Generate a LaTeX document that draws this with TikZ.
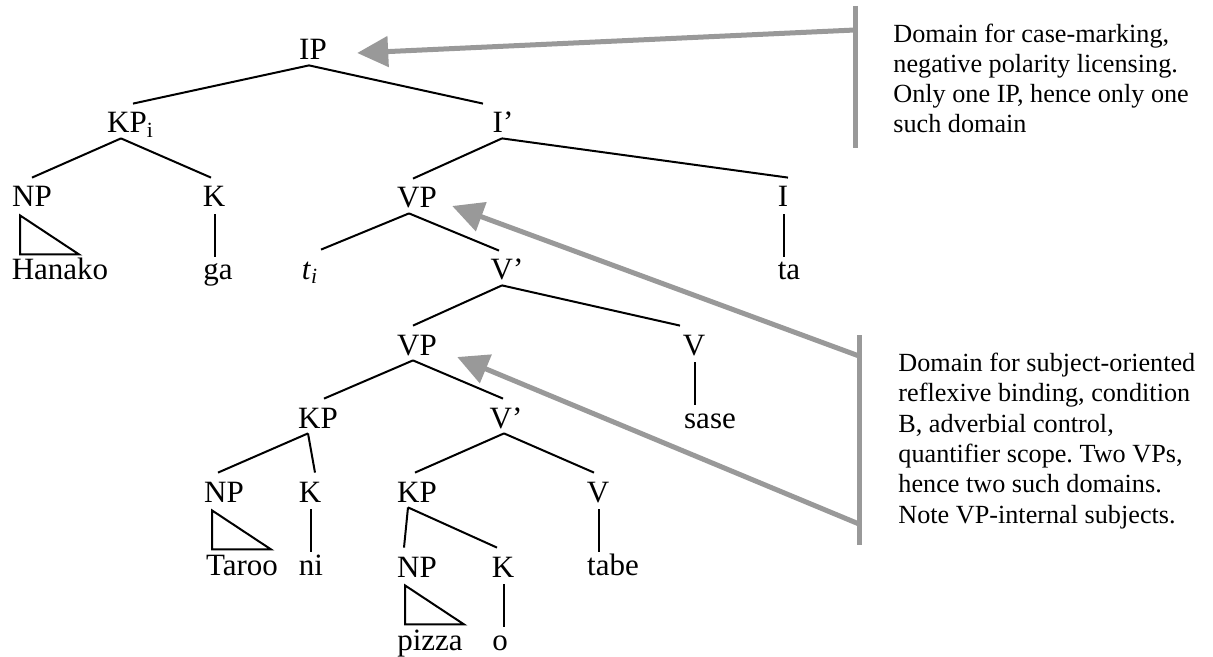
\documentclass[tikz,border=0pt]{standalone}
\usepackage{fontspec}
\setmainfont{Liberation Serif}
\usetikzlibrary{calc,arrows.meta}
\definecolor{domgray}{RGB}{153,153,153}
\frenchspacing
\def\branch(#1)(#2)(#3)(#4){\draw[treeline] ($(#1.south)+(#2,0)$) -- ($(#3.north)+(#4,0)$);}
\def\unary(#1)(#2){\draw[treeline] ($(#1.south)+(1,2)$) -- ($(#2.north -| #1.south)+(1,6)$);}
\def\roof(#1){\draw[treeline] ($(#1.south)+(-12,3)$) -- ++(0,39) -- ++(59,0) -- cycle;}

\begin{document}
\begin{tikzpicture}[x=0.5pt,y=-0.5pt,
    treelabel/.style={anchor=base,inner sep=0pt,text height=14.5pt,text depth=2.5pt,font=\fontsize{15.5}{18}\selectfont},
    treeline/.style={line width=1pt},
    domnote/.style={anchor=base west,inner sep=0pt,align=left,font=\fontsize{13.1}{15.15}\selectfont},
    dombar/.style={line width=2.5pt,draw=domgray},
    domarrow/.style={line width=2.5pt,draw=domgray,-{Triangle[length=15.5pt,width=15pt]}}]
			%%%%% START %%%%%
			\useasboundingbox (0,0) rectangle (1213,657);
			
			\node[treelabel] (IP) at (313,60) {IP};
			\node[treelabel] (KPi) at (127,133) {KP\rlap{\textsubscript{i}}};
			\node[treelabel] (Ibar) at (503,133) {I’};
			
			\node[treelabel] (NPa) at (32,207) {NP};
			\node[treelabel] (Ka) at (214,207) {K};
			\node[treelabel] (VPa) at (417,208) {VP};
			\node[treelabel] (I) at (783,207) {I};
			
			\node[treelabel] (Hanako) at (60,280) {Hanako};
			\node[treelabel] (ga) at (218,280) {ga};
			\node[treelabel] (ti) at (310,279) {\textit{t}\textsubscript{\textit{i}}};
			\node[treelabel] (Vbara) at (507,280) {V’};
			\node[treelabel] (ta) at (789,280) {ta};
			
			\node[treelabel] (VPb) at (417,355) {VP};
			\node[treelabel] (Va) at (694,355) {V};
			
			\node[treelabel] (KPb) at (318,428) {KP};
			\node[treelabel] (Vbarb) at (506,428) {V’};
			\node[treelabel] (sase) at (710,428) {sase};
			
			\node[treelabel] (NPb) at (224,502) {NP};
			\node[treelabel] (Kb) at (310,502) {K};
			\node[treelabel] (KPc) at (417,502) {KP};
			\node[treelabel] (Vb) at (598,502) {V};
			
			\node[treelabel] (Taroo) at (242,575) {Taroo};
			\node[treelabel] (ni) at (311,575) {ni};
			\node[treelabel] (tabe) at (613,575) {tabe};
			\node[treelabel] (NPc) at (417,577) {NP};
			\node[treelabel] (Kc) at (503,577) {K};
			
			\node[treelabel] (pizza) at (430,650) {pizza};
			\node[treelabel] (o) at (500,650) {o};
			
			\branch(IP)(-4)(KPi)(6)
			\branch(IP)(-4)(Ibar)(-20)
			\branch(KPi)(-6)(NPa)(0)
			\branch(KPi)(-6)(Ka)(-3)
			\branch(Ibar)(-1)(VPa)(-4)
			\branch(Ibar)(-1)(I)(5)
			\branch(VPa)(-8)(ti)(11)
			\branch(VPa)(-8)(Vbara)(-8)
			\branch(Vbara)(-5)(VPb)(-4)
			\branch(Vbara)(-5)(Va)(-14)
			\branch(VPb)(-4)(KPb)(6)
			\branch(VPb)(-4)(Vbarb)(-3)
			\branch(KPb)(-10)(NPb)(-6)
			\branch(KPb)(-10)(Kb)(5)
			\branch(Vbarb)(-2)(KPc)(-2)
			\branch(Vbarb)(-2)(Vb)(-4)
			\branch(KPc)(-9)(NPc)(-13)
			\branch(KPc)(-9)(Kc)(-6)
			
			\unary(Ka)(ga)
			\unary(I)(ta)
			\unary(Va)(sase)
			\unary(Kb)(ni)
			\unary(Vb)(tabe)
			\unary(Kc)(o)
			
			\roof(NPa)
			\roof(NPb)
			\roof(NPc)
			
			% IP domain
			\coordinate (caseTop) at (855,6);
			\coordinate (caseBot) at (855,148);
			\coordinate (caseFoot) at (855,30);
			\draw[dombar] (caseTop) -- (caseBot);
			\draw[domarrow] (caseFoot) -- ($(IP.east)+(30,5)$);
			\node[domnote] (caseNote) at (893,133) {Domain for case-marking,\\negative polarity licensing.\\Only one IP, hence only one\\such domain};
			
			% VP domains
			\coordinate (bindTop) at (859,335);
			\coordinate (bindBot) at (859,545);
			\coordinate (bindUp) at (859,356);
			\coordinate (bindLow) at (859,524);
			\draw[dombar] (bindTop) -- (bindBot);
			\draw[domarrow] (bindUp) -- ($(VPa.east)+(15,10)$);
			\draw[domarrow] (bindLow) -- ($(VPb.east)+(20,14)$);
			\node[domnote] (bindNote) at (898,523) {Domain for subject-oriented\\reflexive binding, condition\\B, adverbial control,\\quantifier scope. Two VPs,\\hence two such domains.\\Note VP-internal subjects.};
			
			%%%%% END %%%%%
\end{tikzpicture}
\end{document}
